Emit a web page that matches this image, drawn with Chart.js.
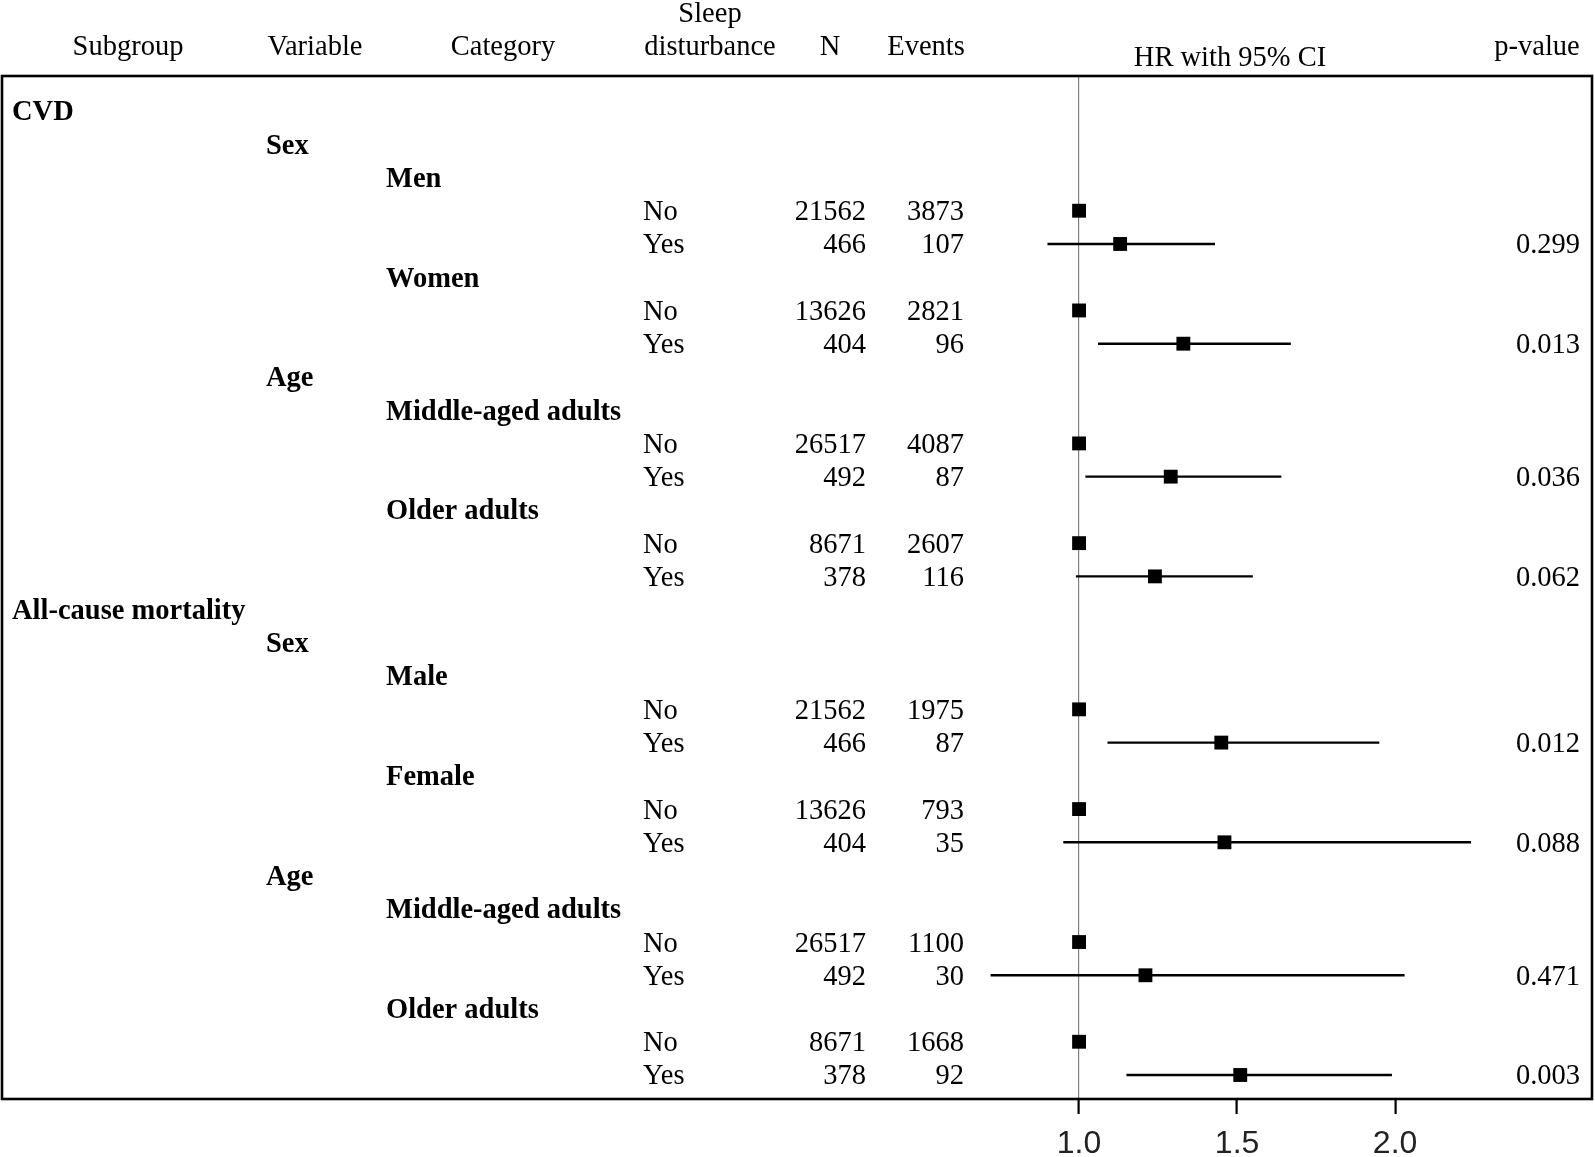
<!DOCTYPE html>
<html>
<head>
<meta charset="utf-8">
<script src="https://cdn.jsdelivr.net/npm/chart.js"></script>
<style>
  html, body { margin: 0; padding: 0; background: #fff; }
  #wrap { width: 1595px; height: 1157px; position: relative; }
</style>
</head>
<body>
<div id="wrap"><canvas id="forest"></canvas></div>
<script>
// heading rows (bold labels) : row index, label, indent level
const headingRows = [0, 1, 2, 5, 8, 9, 12, 15, 16, 17, 20, 23, 24, 27];
const headingLabels = ['CVD', 'Sex', 'Men', 'Women', 'Age', 'Middle-aged adults', 'Older adults',
  'All-cause mortality', 'Sex', 'Male', 'Female', 'Age', 'Middle-aged adults', 'Older adults'];
const headingLevel = [0, 1, 2, 2, 1, 2, 2, 0, 1, 2, 2, 1, 2, 2];

// data rows
const dataRows = [3, 4, 6, 7, 10, 11, 13, 14, 18, 19, 21, 22, 25, 26, 28, 29];
const sleepDisturbance = ['No', 'Yes', 'No', 'Yes', 'No', 'Yes', 'No', 'Yes',
  'No', 'Yes', 'No', 'Yes', 'No', 'Yes', 'No', 'Yes'];
const nValues = [21562, 466, 13626, 404, 26517, 492, 8671, 378,
  21562, 466, 13626, 404, 26517, 492, 8671, 378];
const events = [3873, 107, 2821, 96, 4087, 87, 2607, 116,
  1975, 87, 793, 35, 1100, 30, 1668, 92];
const hr = [1, 1.13, 1, 1.33, 1, 1.29, 1, 1.24, 1, 1.45, 1, 1.46, 1, 1.21, 1, 1.51];
const ciLow = [null, 0.90, null, 1.06, null, 1.02, null, 0.99, null, 1.09, null, 0.95, null, 0.72, null, 1.15];
const ciHigh = [null, 1.43, null, 1.67, null, 1.64, null, 1.55, null, 1.95, null, 2.24, null, 2.03, null, 1.99];
const pValues = ['', '0.299', '', '0.013', '', '0.036', '', '0.062',
  '', '0.012', '', '0.088', '', '0.471', '', '0.003'];

const xTicks = [1.0, 1.5, 2.0];

const headers = [
  { text: 'Subgroup', x: 128, y: 46 },
  { text: 'Variable', x: 315, y: 46 },
  { text: 'Category', x: 503, y: 46 },
  { text: 'Sleep', x: 710, y: 13 },
  { text: 'disturbance', x: 710, y: 46 },
  { text: 'N', x: 830, y: 46 },
  { text: 'Events', x: 926, y: 46 },
  { text: 'HR with 95% CI', x: 1230, y: 57 },
  { text: 'p-value', x: 1537, y: 46 }
];

const serif = '"Liberation Serif", "Times New Roman", serif';
const levelX = [12, 266, 386];
const textShift = 2;

const datasets = [];
// confidence intervals, one short line each
dataRows.forEach((row, i) => {
  if (ciLow[i] === null) return;
  datasets.push({
    type: 'line',
    data: [{ x: ciLow[i], y: row }, { x: ciHigh[i], y: row }],
    borderColor: '#000',
    borderWidth: 2.4,
    pointRadius: 0,
    fill: false
  });
});
// point estimates
datasets.push({
  type: 'scatter',
  data: dataRows.map((row, i) => ({ x: hr[i], y: row })),
  pointStyle: 'rect',
  pointRadius: 9.8,
  backgroundColor: '#000',
  borderColor: '#000',
  borderWidth: 0
});

const tablePlugin = {
  id: 'tableText',
  afterDraw(chart) {
    const c = chart.ctx;
    const ys = chart.scales.y;
    const a = chart.chartArea;
    c.save();
    // frame
    c.strokeStyle = '#000';
    c.lineWidth = 2.6;
    c.strokeRect(a.left, a.top, a.right - a.left, a.bottom - a.top);

    c.fillStyle = '#000';
    c.textBaseline = 'middle';
    c.font = '28.5px ' + serif;
    c.textAlign = 'center';
    headers.forEach(h => c.fillText(h.text, h.x, h.y + textShift));

    c.font = 'bold 28.5px ' + serif;
    c.textAlign = 'left';
    headingRows.forEach((row, i) => {
      c.fillText(headingLabels[i], levelX[headingLevel[i]], ys.getPixelForValue(row) + textShift);
    });

    c.font = '28.5px ' + serif;
    dataRows.forEach((row, i) => {
      const y = ys.getPixelForValue(row) + textShift;
      c.textAlign = 'left';
      c.fillText(sleepDisturbance[i], 643, y);
      c.textAlign = 'right';
      c.fillText(String(nValues[i]), 866, y);
      c.fillText(String(events[i]), 964, y);
      if (pValues[i]) c.fillText(pValues[i], 1580, y);
    });
    c.restore();
  }
};

new Chart(document.getElementById('forest'), {
  type: 'scatter',
  data: { datasets },
  options: {
    responsive: true,
    maintainAspectRatio: false,
    animation: false,
    layout: { autoPadding: false, padding: { top: 76, left: 2, right: 3, bottom: 0 } },
    plugins: { legend: { display: false }, tooltip: { enabled: false } },
    scales: {
      x: {
        type: 'linear',
        min: -2.408,
        max: 2.623,
        afterBuildTicks: s => { s.ticks = xTicks.map(v => ({ value: v })); },
        afterFit: s => { s.height = 58; },
        border: { display: false },
        grid: {
          color: ctx => (ctx.tick && ctx.tick.value === 1 ? '#808080' : 'rgba(0,0,0,0)'),
          lineWidth: 1.2,
          tickColor: '#000',
          tickWidth: 2.2,
          tickLength: 15,
          drawTicks: true
        },
        ticks: {
          padding: 11,
          color: '#222',
          font: { family: '"Liberation Sans", Arial, sans-serif', size: 32 },
          callback: v => Number(v).toFixed(1),
          maxRotation: 0
        }
      },
      y: {
        type: 'linear',
        reverse: true,
        min: -1.053,
        max: 29.722,
        display: false
      }
    }
  },
  plugins: [tablePlugin]
});
</script>
</body>
</html>
